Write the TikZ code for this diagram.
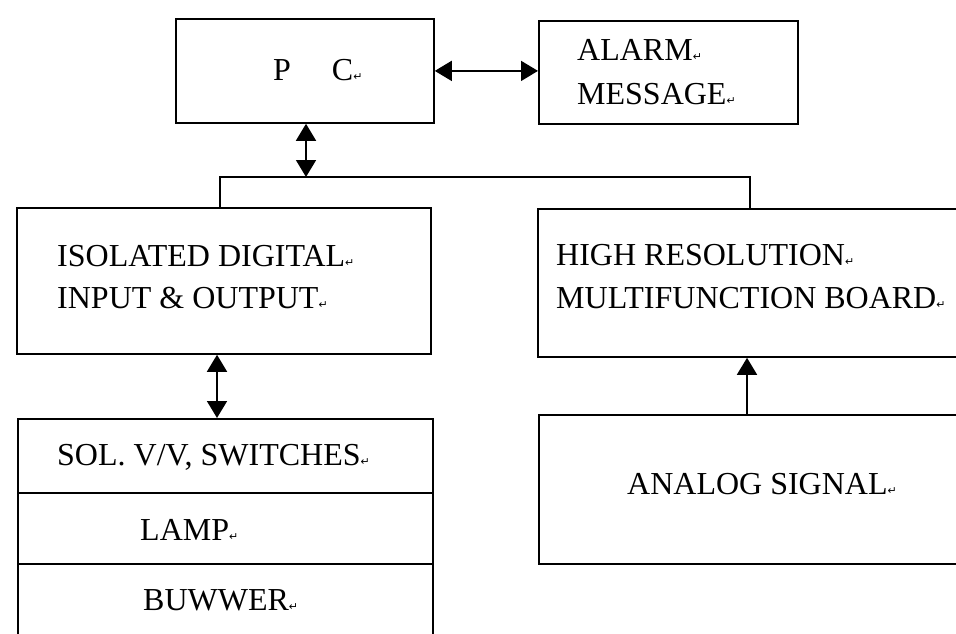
\documentclass[tikz,border=0pt]{standalone}
\usepackage{fontspec}
\setmainfont{Liberation Serif}
\newfontfamily\symf{DejaVu Sans}
\usetikzlibrary{arrows.meta}
\newcommand\pmk{{\symf\fontsize{11}{11}\selectfont ↵}}
\tikzset{
  box/.style={draw, line width=1.8pt, rectangle, inner sep=0pt, anchor=north west},
  lbl/.style={anchor=base west, inner sep=0pt, align=left, font=\fontsize{32}{42}\selectfont},
  conn/.style={line width=1.6pt},
  dbl/.style={conn, {Triangle[length=17pt,width=20pt]}-{Triangle[length=17pt,width=20pt]}},
  sgl/.style={conn, -{Triangle[length=17pt,width=20pt]}}
}
\begin{document}
\begin{tikzpicture}[x=1pt,y=-1pt]
\clip (0,0) rectangle (956,633);
\fill[white] (0,0) rectangle (956,633);
% boxes
\node[box, minimum width=258pt, minimum height=104pt] (pc) at (175,18) {};
\node[box, minimum width=259pt, minimum height=103pt] (alarm) at (538,20) {};
\node[box, minimum width=414pt, minimum height=146pt] (iso) at (16,207) {};
\node[box, minimum width=430pt, minimum height=148pt] (high) at (537,208) {};
\node[box, minimum width=415pt, minimum height=74pt] (sol) at (17,418) {};
\node[box, minimum width=415pt, minimum height=71pt] (lamp) at (17,492) {};
\node[box, minimum width=415pt, minimum height=90pt] (buz) at (17,563) {};
\node[box, minimum width=430pt, minimum height=149pt] (analog) at (538,414) {};
% labels (base anchor of a two-line label = baseline of its last line)
\node[lbl] (tpc) at (273,80) {P\hspace{41pt}C\pmk};
\node[lbl, font=\fontsize{32}{44}\selectfont] (talarm) at (577,104) {ALARM\pmk\\MESSAGE\pmk};
\node[lbl] (tiso) at (57,308) {ISOLATED DIGITAL\pmk\\INPUT \& OUTPUT\pmk};
\node[lbl, font=\fontsize{32}{43}\selectfont] (thigh) at (556,308) {HIGH RESOLUTION\pmk\\MULTIFUNCTION BOARD\pmk};
\node[lbl] (tsol) at (57,465) {SOL. V/V, SWITCHES\pmk};
\node[lbl] (tlamp) at (140,540) {LAMP\pmk};
\node[lbl] (tbuz) at (143,610) {BUWWER\pmk};
\node[lbl] (tanalog) at (627,494) {ANALOG SIGNAL\pmk};
% bus
\coordinate (busL) at (220,177);
\coordinate (busR) at (750,177);
\coordinate (busM) at (306,177);
\draw[line width=1.8pt] (iso.north -| busL) -- (busL) -- (busR) -- (high.north -| busR);
% connectors
\draw[dbl] (pc.east) -- (pc.east -| alarm.west);
\draw[dbl] (pc.south -| busM) -- (busM);
\coordinate (c1) at (217,0);
\draw[dbl] (iso.south -| c1) -- (sol.north -| c1);
\coordinate (c2) at (747,0);
\draw[sgl] (analog.north -| c2) -- (high.south -| c2);
\end{tikzpicture}
\end{document}
